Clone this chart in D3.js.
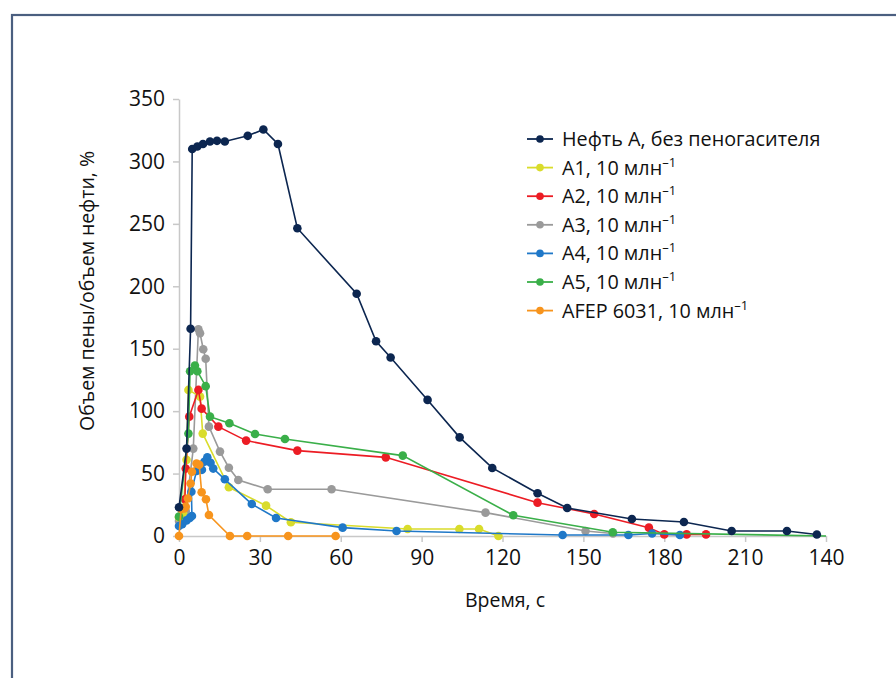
<!DOCTYPE html>
<html><head><meta charset="utf-8">
<script src="https://cdn.jsdelivr.net/npm/d3@7"></script>
<style>
html,body{margin:0;padding:0;background:#fff;}
svg{display:block;}
text{font-family:"Open Sans","Noto Sans",sans-serif;fill:#111;}
</style></head>
<body>
<svg id="c" width="896" height="678"></svg>
<script>
// ---- data ----
const seriesNames = ["Нефть А, без пеногасителя","A1, 10 млн","A2, 10 млн","A3, 10 млн","A4, 10 млн","A5, 10 млн","AFEP 6031, 10 млн"];
const superscripts = ["","–1","–1","–1","–1","–1","–1"];
const seriesColors = ["#0c2650","#d9dc2b","#ec1c24","#9a9a9a","#1f78c8","#3aaf49","#f7941d"];

const tOil = [0,2.8,4.3,4.9,6.8,8.9,11.5,14.1,17,25.5,31.3,36.7,43.9,65.9,73.1,78.5,92.2,104.1,116.2,133,144,168,187.3,205,225.5,236.6];
const vOil = [23,70,166,310,312,314,316,316.5,316,320.5,325.6,314,246.5,194,156,143,109,79,54.5,34.2,22.4,13.6,11.2,4,4,1.2];

const tA1 = [0,1.5,2.8,3.5,7.8,8.8,18.5,32.3,41.5,84.8,104,111.3,118.5];
const vA1 = [15,18.4,61,117,111.6,82,39,24.3,11,5.6,5.6,5.6,0];

const tA2 = [2.2,2.5,3.8,7.2,8.4,14.6,24.9,43.9,76.7,133,154,174.3,180,188.3,195.5];
const vA2 = [29.4,54,95.6,117,102,87.6,76.4,68.4,63,26.7,17.6,6.7,1.3,1.3,1.3];

const tA3 = [0,2.5,5.3,7.2,7.8,9,9.9,11.1,15.2,18.5,22,32.9,56.6,113.7,150.8,161];
const vA3 = [12,20,70,165.6,162.4,149.6,142,87.6,67.6,54.7,44.9,37.4,37.4,18.7,4,2];

const tA4 = [0,1.2,2.8,4.0,4.8,4.6,6.5,8.5,9.4,10.5,11.7,12.7,17,27,36,60.7,80.7,142.3,166.7,175.5,185.8];
const vA4 = [8,9.4,12.5,14.5,16,35.5,52,53,59.5,63,58.7,54,45.4,25.6,14.4,6.7,4,0.8,0.8,2,0.8];

const tA5 = [0,3.5,4.1,5.9,6.8,9.9,11.5,18.7,28.2,39.3,83,124,160.9,240];
const vA5 = [15.5,82,132,136.5,132,120,95.6,90.3,81.7,77.7,64.4,16.6,3,0];

const tAF = [0,0.8,2,2.5,3.3,4.3,4.8,6.5,7.5,8.4,10,11.1,18.9,25.3,40.5,58.1];
const vAF = [0,21.6,22,23.5,30,42,51.5,58,57,35,29.4,16.8,0,0,0,0];

const xTickValues = [0,30,60,90,120,150,180,210,240];
const xTickLabels = ["0","30","60","90","120","150","180","210","140"];
const yTickValues = [0,50,100,150,200,250,300,350];
const yTitle = "Объем пены/объем нефти, %";
const xTitle = "Время, с";

const seriesT = [tOil,tA1,tA2,tA3,tA4,tA5,tAF];
const seriesV = [vOil,vA1,vA2,vA3,vA4,vA5,vAF];

// ---- chart ----
const svg = d3.select("#c");
svg.append("rect").attr("x",12).attr("y",15).attr("width",900).attr("height",700)
  .attr("fill","none").attr("stroke","#4b5f80").attr("stroke-width",2.2);

const x = d3.scaleLinear().domain([0,240]).range([179,826]);
const y = d3.scaleLinear().domain([0,350]).range([536,99]);

const gx = svg.append("g").attr("transform","translate(0,536)")
  .call(d3.axisBottom(x).tickValues(xTickValues).tickFormat((d,i)=>xTickLabels[i]).tickSize(6).tickSizeOuter(0).tickPadding(8));
const gy = svg.append("g").attr("transform","translate(179,0)")
  .call(d3.axisLeft(y).tickValues(yTickValues).tickSize(6).tickSizeOuter(0).tickPadding(8));
[gx,gy].forEach(g=>{
  g.select(".domain").attr("stroke","#c8c8c8").attr("stroke-width",1.5);
  g.selectAll(".tick line").attr("stroke","#c8c8c8").attr("stroke-width",1.5);
  g.selectAll(".tick text").attr("font-size",21).attr("font-family","'Open Sans',sans-serif").attr("fill","#111");
});

svg.append("text").attr("transform","translate(94,291) rotate(-90)")
  .attr("text-anchor","middle").attr("font-size",19.5).text(yTitle);
svg.append("text").attr("x",505).attr("y",607).attr("text-anchor","middle").attr("font-size",19.5).text(xTitle);

const line = d3.line().x(d=>x(d[0])).y(d=>y(d[1]));
const order = [3,1,2,4,5,6,0];
order.forEach(i=>{
  const pts = seriesT[i].map((t,k)=>[t,seriesV[i][k]]);
  const g = svg.append("g");
  g.append("path").attr("d",line(pts)).attr("fill","none")
    .attr("stroke",seriesColors[i]).attr("stroke-width",1.6);
  g.selectAll("circle").data(pts.filter(p=>p[0]<240)).join("circle")
    .attr("cx",d=>x(d[0])).attr("cy",d=>y(d[1])).attr("r",4.3).attr("fill",seriesColors[i]);
});

// legend
const leg = svg.append("g");
seriesNames.forEach((n,i)=>{
  const yy = 139 + i*28.6;
  leg.append("line").attr("x1",527).attr("x2",553).attr("y1",yy).attr("y2",yy)
    .attr("stroke",seriesColors[i]).attr("stroke-width",1.8);
  leg.append("circle").attr("cx",540).attr("cy",yy).attr("r",3.8).attr("fill",seriesColors[i]);
  const t = leg.append("text").attr("x",562).attr("y",yy+7).attr("font-size",19.8);
  t.append("tspan").text(n);
  if (superscripts[i]) t.append("tspan").attr("dy",-8).attr("font-size",13).text(superscripts[i]);
});
</script>
</body></html>
